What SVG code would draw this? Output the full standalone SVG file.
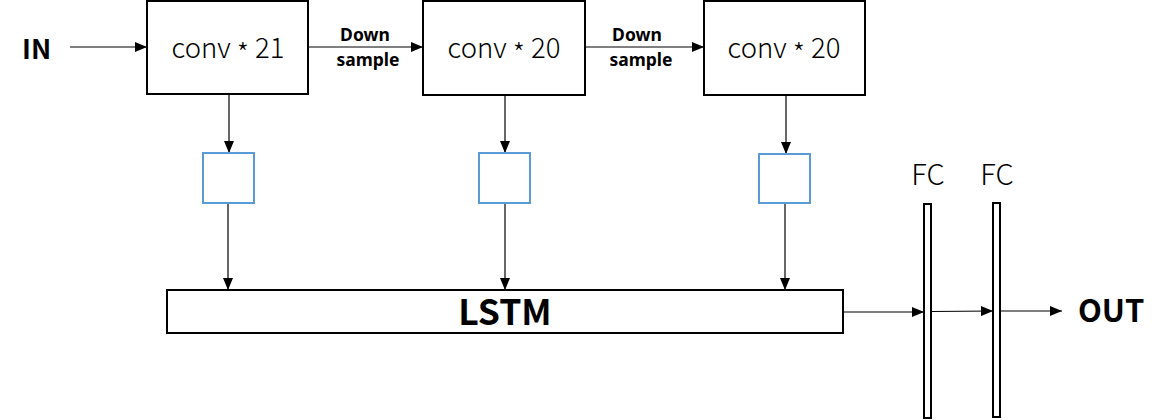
<svg xmlns="http://www.w3.org/2000/svg" width="1165" height="420" viewBox="0 0 1165 420">
<style>
.box{fill:#fff;stroke:#000;stroke-width:2}
.sm{fill:#fff;stroke:#5B9BD5;stroke-width:2}
.bar{fill:#fff;stroke:#000;stroke-width:2}
.ln{stroke:#000;stroke-width:1.2;fill:none;marker-end:url(#ah)}
.conv{font-family:"Noto Sans CJK SC","Noto Sans",sans-serif;font-size:27.5px;fill:#000;text-anchor:middle;font-weight:300}
.lbl{font-family:"Noto Sans","Noto Sans CJK SC",sans-serif;font-size:17.5px;font-weight:bold;fill:#000;text-anchor:middle}
.big{font-family:"Noto Sans CJK SC","Noto Sans",sans-serif;font-weight:bold;fill:#000}
.fc{font-family:"Noto Sans CJK SC","Noto Sans",sans-serif;font-size:29px;fill:#000;text-anchor:middle;font-weight:300}
</style>
<defs>
<marker id="ah" markerWidth="12" markerHeight="10" refX="12" refY="5" orient="auto" markerUnits="userSpaceOnUse">
<path d="M0,0 L12,5 L0,10 Z" fill="#000"/>
</marker>
</defs>
<g id="connectors">
<line class="ln" x1="70" y1="47" x2="147" y2="47"/>
<line class="ln" x1="309" y1="47" x2="423" y2="47"/>
<line class="ln" x1="585" y1="47" x2="704" y2="47"/>
<line class="ln" x1="229" y1="94" x2="229" y2="153"/>
<line class="ln" x1="505" y1="95" x2="505" y2="153"/>
<line class="ln" x1="786" y1="95" x2="786" y2="154"/>
<line class="ln" x1="228" y1="203" x2="228" y2="290"/>
<line class="ln" x1="505" y1="203" x2="505" y2="290"/>
<line class="ln" x1="785" y1="203" x2="785" y2="290"/>
<line class="ln" x1="843" y1="312" x2="924" y2="312"/>
<line class="ln" x1="931" y1="311.5" x2="993" y2="311"/>
<line class="ln" x1="1000" y1="311" x2="1062" y2="311"/>
</g>
<g id="in"><text class="big" x="22" y="59" font-size="27">IN</text></g>
<g id="conv1"><rect class="box" x="147" y="1" width="161" height="93"/><text class="conv" x="228" y="58">conv <tspan dy="6">*</tspan><tspan dy="-6"> 21</tspan></text></g>
<g id="ds1"><text class="lbl" x="365" y="41">Down</text><text class="lbl" x="368" y="66">sample</text></g>
<g id="conv2"><rect class="box" x="423" y="1" width="162" height="94"/><text class="conv" x="504" y="58">conv <tspan dy="6">*</tspan><tspan dy="-6"> 20</tspan></text></g>
<g id="ds2"><text class="lbl" x="637" y="41">Down</text><text class="lbl" x="641" y="66">sample</text></g>
<g id="conv3"><rect class="box" x="704" y="1" width="161" height="94"/><text class="conv" x="784" y="58">conv <tspan dy="6">*</tspan><tspan dy="-6"> 20</tspan></text></g>
<g id="s1"><rect class="sm" x="203" y="153" width="51" height="50"/></g>
<g id="s2"><rect class="sm" x="479" y="153" width="51" height="50"/></g>
<g id="s3"><rect class="sm" x="759" y="154" width="51" height="49"/></g>
<g id="lstm"><rect class="box" x="167" y="290" width="676" height="43"/><text class="big" x="505" y="325" font-size="35.5" text-anchor="middle">LSTM</text></g>
<g id="fc1"><text class="fc" x="928" y="185">FC</text><rect class="bar" x="924" y="204" width="7" height="214"/></g>
<g id="fc2"><text class="fc" x="997" y="185">FC</text><rect class="bar" x="993" y="203" width="7" height="214"/></g>
<g id="out"><text class="big" x="1078" y="322" font-size="31">OUT</text></g>
</svg>
